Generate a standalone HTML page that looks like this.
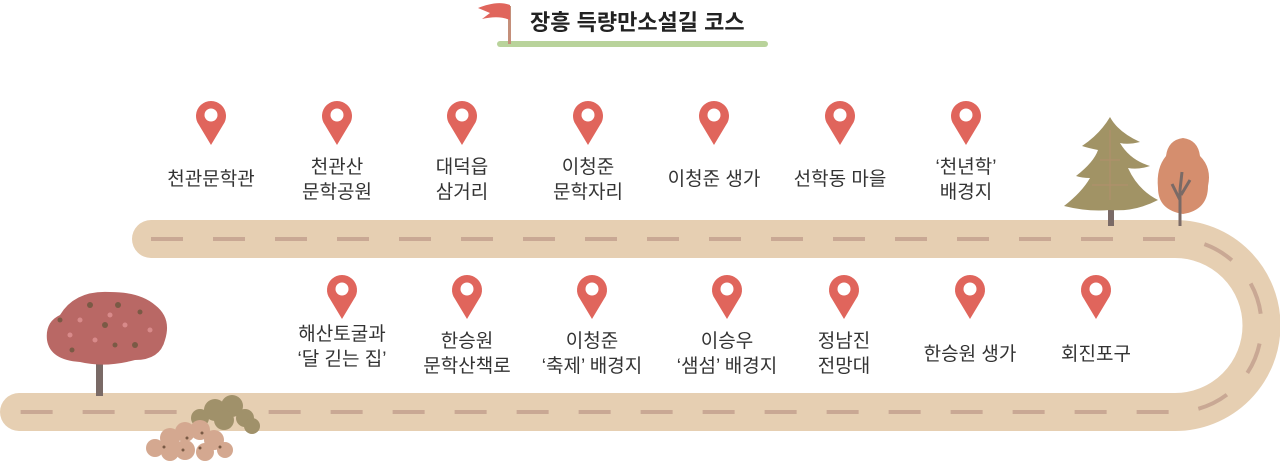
<!DOCTYPE html>
<html><head><meta charset="utf-8"><style>
html,body{margin:0;padding:0;background:#fff;}
body{width:1280px;height:462px;overflow:hidden;position:relative;font-family:"Liberation Sans","Noto Sans CJK KR",sans-serif;}
.l{position:absolute;transform:translateX(-50%);text-align:center;font-size:19px;line-height:25px;color:#333;white-space:nowrap;}
.t{position:absolute;left:530px;top:5px;font-size:22px;font-weight:bold;color:#222;}
</style></head><body>
<svg width="1280" height="462" style="position:absolute;left:0;top:0">
<defs>
<g id="pin"><path d="M0 42 L-12 22 A15 15 0 1 1 12 22 Z" fill="#e0655c"/><circle cx="0" cy="12" r="6.5" fill="#fff"/></g>
</defs>
<rect x="497" y="41" width="271" height="6" rx="3" fill="#b9d39b"/>
<rect x="508" y="6" width="3" height="38" fill="#c48f7a"/>
<path d="M510 5 C500 1 488 4 478 8 L490 13 L482 19 C492 17 500 16 510 20 Z" fill="#e0655c"/>
<path d="M151 239 H1175 A86.5 86.5 0 0 1 1175 412 H19" fill="none" stroke="#e6cfb2" stroke-width="38" stroke-linecap="round"/>
<path d="M151 239 H1175 A86.5 86.5 0 0 1 1175 412 H19" fill="none" stroke="#c9a894" stroke-width="4" stroke-dasharray="32 30"/>
<use href="#pin" x="211" y="103"/><use href="#pin" x="337" y="103"/><use href="#pin" x="462" y="103"/><use href="#pin" x="588" y="103"/><use href="#pin" x="714" y="103"/><use href="#pin" x="840" y="103"/><use href="#pin" x="966" y="103"/>
<use href="#pin" x="342" y="277"/><use href="#pin" x="467" y="277"/><use href="#pin" x="592" y="277"/><use href="#pin" x="727" y="277"/><use href="#pin" x="844" y="277"/><use href="#pin" x="970" y="277"/><use href="#pin" x="1096" y="277"/>
<rect x="1108" y="190" width="6" height="36" fill="#7a6a66"/>
<path d="M1110 117 Q1118 132 1140 142 Q1128 145 1120 143 Q1130 160 1150 166 Q1138 170 1128 168 Q1138 190 1158 200 Q1135 212 1110 210 Q1088 212 1064 206 Q1082 192 1090 178 Q1082 178 1076 176 Q1094 162 1098 150 Q1088 148 1082 146 Q1100 134 1110 117 Z" fill="#a19365"/>
<path d="M1110 130 L1110 200 M1100 160 L1120 160 M1092 185 L1128 185" stroke="#b89070" stroke-width="1.5" fill="none" opacity=".6"/>
<path d="M1183 138 Q1198 140 1200 156 Q1212 168 1208 186 Q1208 210 1183 214 Q1158 210 1158 188 Q1156 168 1166 156 Q1168 140 1183 138 Z" fill="#d58e6e"/>
<path d="M1180 226 L1180 190 M1180 200 L1172 184 M1181 195 L1190 180 M1180 190 L1182 172" stroke="#7a6a66" stroke-width="3" fill="none"/>
<rect x="96" y="350" width="7" height="46" fill="#7a6a66"/>
<path d="M92 355 Q90 345 100 345 M108 355 Q110 346 100 346" stroke="#7a6a66" stroke-width="2.5" fill="none"/>
<path d="M60 315 Q75 290 110 292 Q140 292 155 305 Q172 318 165 340 Q160 360 135 360 Q105 368 80 362 Q50 360 47 340 Q45 322 60 315 Z" fill="#b96865"/>
<g fill="#7a5a45"><circle cx="90" cy="305" r="3"/><circle cx="118" cy="305" r="3"/><circle cx="60" cy="320" r="2.5"/><circle cx="105" cy="325" r="3"/><circle cx="140" cy="312" r="2.5"/><circle cx="72" cy="350" r="2.5"/><circle cx="135" cy="345" r="3"/><circle cx="115" cy="345" r="2.5"/></g>
<g fill="#d88a8a"><circle cx="80" cy="320" r="2.5"/><circle cx="95" cy="340" r="2.5"/><circle cx="125" cy="325" r="2.5"/><circle cx="150" cy="330" r="2.5"/><circle cx="70" cy="335" r="2.5"/><circle cx="110" cy="315" r="2.5"/></g>
<g fill="#a0916a"><circle cx="200" cy="418" r="9"/><circle cx="215" cy="410" r="11"/><circle cx="232" cy="406" r="11"/><circle cx="245" cy="418" r="9"/><circle cx="224" cy="420" r="10"/><circle cx="252" cy="426" r="8"/></g>
<g fill="#d4a890"><circle cx="155" cy="448" r="9"/><circle cx="170" cy="438" r="10"/><circle cx="185" cy="432" r="10"/><circle cx="200" cy="430" r="10"/><circle cx="214" cy="440" r="10"/><circle cx="225" cy="450" r="8"/><circle cx="185" cy="450" r="10"/><circle cx="205" cy="452" r="9"/><circle cx="170" cy="452" r="9"/></g>
<g fill="#7a5a45"><circle cx="164" cy="447" r="1.5"/><circle cx="187" cy="438" r="1.5"/><circle cx="202" cy="433" r="1.5"/><circle cx="200" cy="448" r="1.5"/><circle cx="183" cy="450" r="1.5"/><circle cx="220" cy="447" r="1.5"/></g>
</svg>
<div class="t">장흥 득량만소설길 코스</div>
<div class="l" style="left:211px;top:167px">천관문학관</div>
<div class="l" style="left:337px;top:155px">천관산<br>문학공원</div>
<div class="l" style="left:462px;top:155px">대덕읍<br>삼거리</div>
<div class="l" style="left:588px;top:155px">이청준<br>문학자리</div>
<div class="l" style="left:714px;top:167px">이청준 생가</div>
<div class="l" style="left:840px;top:167px">선학동 마을</div>
<div class="l" style="left:966px;top:155px">‘천년학’<br>배경지</div>
<div class="l" style="left:342px;top:322px">해산토굴과<br>‘달 긷는 집’</div>
<div class="l" style="left:467px;top:329px">한승원<br>문학산책로</div>
<div class="l" style="left:592px;top:329px">이청준<br>‘축제’ 배경지</div>
<div class="l" style="left:727px;top:329px">이승우<br>‘샘섬’ 배경지</div>
<div class="l" style="left:844px;top:329px">정남진<br>전망대</div>
<div class="l" style="left:970px;top:342px">한승원 생가</div>
<div class="l" style="left:1096px;top:342px">회진포구</div>
</body></html>
